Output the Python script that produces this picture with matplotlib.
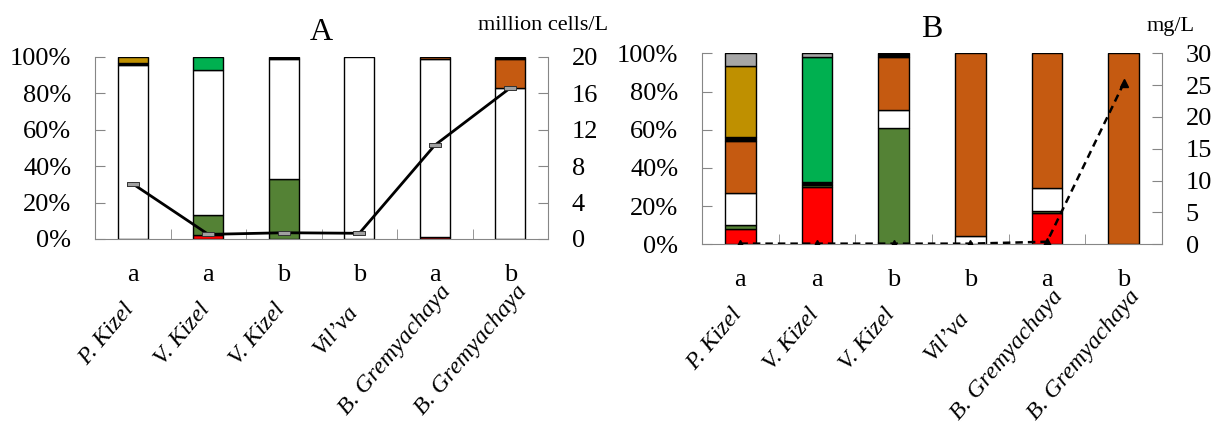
import matplotlib.pyplot as plt
import matplotlib.transforms as mtransforms
import numpy as np

plt.rcParams['font.family'] = ['Liberation Serif', 'DejaVu Serif']

sites = ["P. Kizel", "V. Kizel", "V. Kizel", "Vil\u2019va", "B. Gremyachaya", "B. Gremyachaya"]
season = ["a", "a", "b", "b", "a", "b"]

# group colours, bottom to top of each stack
colors = ["#FF0000", "#C00000", "#548235", "#FFFFFF", "#C55A11",
          "#000000", "#BF9000", "#00B050", "#A6A6A6"]

# panel A, % of cell numbers
a_red     = [0, 2.2, 0, 0, 0, 0]
a_darkred = [0, 0, 0, 0, 1.2, 0]
a_dkgreen = [0, 10.8, 33, 0, 0, 0]
a_white   = [95.8, 80, 66, 100, 97.4, 83]
a_orange  = [0, 0, 0, 0, 1.4, 16]
a_black   = [0.9, 0, 1, 0, 0, 1]
a_gold    = [3.3, 0, 0, 0, 0, 0]
a_green   = [0, 7, 0, 0, 0, 0]
a_gray    = [0, 0, 0, 0, 0, 0]
a_total = [6.05, 0.5, 0.68, 0.62, 10.3, 16.6]   # million cells/L

# panel B, % of biomass
b_red     = [7.9, 30, 0, 0, 16.2, 0]
b_darkred = [0, 0, 0, 0, 0, 0]
b_dkgreen = [2.2, 0.9, 60.7, 0, 1.2, 0]
b_white   = [16.9, 0, 9.6, 4.5, 12.2, 0]
b_orange  = [27, 0, 27.6, 95.5, 70.4, 100]
b_black   = [2.3, 1.9, 2.1, 0, 0, 0]
b_gold    = [37, 0, 0, 0, 0, 0]
b_green   = [0, 65.1, 0, 0, 0, 0]
b_gray    = [6.7, 2.1, 0, 0, 0, 0]
b_total = [0.1, 0.1, 0.1, 0.1, 0.4, 25.3]   # mg/L

A_stack = [a_red, a_darkred, a_dkgreen, a_white, a_orange, a_black, a_gold, a_green, a_gray]
B_stack = [b_red, b_darkred, b_dkgreen, b_white, b_orange, b_black, b_gold, b_green, b_gray]

grey = "#868686"
fs = 19

fig = plt.figure(figsize=(12.19, 4.36), dpi=100)
axA = fig.add_axes([0.078, 0.452, 0.3716, 0.4174])
axB = fig.add_axes([0.5759, 0.4397, 0.3774, 0.438])


def draw_panel(ax, stack, total, rmax, rstep, title, unit, unit_x, dashed):
    x = np.arange(len(sites))
    bottom = np.zeros(len(sites))
    for vals, c in zip(stack, colors):
        v = np.array(vals, dtype=float)
        lw = np.where(v > 0, 1.0, 0.0)
        ax.bar(x, v, 0.4, bottom=bottom, color=c, edgecolor="black", linewidth=lw)
        bottom += v
    ax.set_xlim(-0.5, len(sites) - 0.5)
    ax.set_ylim(0, 100)
    ax.set_yticks(np.arange(0, 101, 20))
    ax.set_yticklabels([f"{v}%" for v in range(0, 101, 20)])
    ax.set_xticks(x)
    ax.set_xticklabels(season)
    ax.set_xticks(np.arange(0.5, len(sites) - 1, 1), minor=True)
    ax.tick_params(axis="x", which="major", length=0, pad=18, labelsize=fs)
    ax.tick_params(axis="x", which="minor", direction="in", length=7, color=grey)
    ax.tick_params(axis="y", direction="in", length=7, color=grey, pad=17, labelsize=fs)
    for s in ["top", "right"]:
        ax.spines[s].set_visible(False)
    for s in ["left", "bottom"]:
        ax.spines[s].set_color(grey)
    ax.set_title(title, fontsize=23, pad=12)

    ax2 = ax.twinx()
    if dashed:
        ax2.plot(x, total, color="black", lw=1.8, ls=(0, (3, 2)),
                 marker="^", ms=6, mfc="black", mec="black")
    else:
        rect = [(-1, -0.3), (1, -0.3), (1, 0.3), (-1, 0.3), (-1, -0.3)]
        ax2.plot(x, total, color="black", lw=2, marker=rect, ms=9,
                 mfc="#a0a0a0", mec="#333333", mew=0.7)
    ax2.set_ylim(0, rmax)
    ax2.set_yticks(np.arange(0, rmax + 1, rstep))
    ax2.tick_params(axis="y", direction="in", length=7, color=grey, pad=17, labelsize=fs)
    for s in ["top", "left", "bottom"]:
        ax2.spines[s].set_visible(False)
    ax2.spines["right"].set_color(grey)

    fig.text(unit_x, 1 - 26 / 436, unit, fontsize=16, ha="right", va="center")

    # rotated site names under the season letters
    r = fig.canvas.get_renderer()
    ang = 50
    base = ax.get_xaxis_transform()
    ref = None
    for i, nm in enumerate(sites):
        t = ax.text(i, 0, nm, fontsize=17.5, style="italic", ha="right",
                    va="baseline", rotation=0, transform=base)
        w = t.get_window_extent(renderer=r).width
        if ref is None:
            ref = w
        shift = 0.26 * (w - ref)
        dx = 2 + shift * np.cos(np.radians(ang))
        dy = -70 + shift * np.sin(np.radians(ang))
        t.set_transform(mtransforms.offset_copy(base, fig=fig, x=dx, y=dy, units="dots"))
        t.set_rotation(ang)
        t.set_rotation_mode("anchor")


draw_panel(axA, A_stack, a_total, 20, 4, "A", "million cells/L", 608 / 1219, False)
draw_panel(axB, B_stack, b_total, 30, 5, "B", "mg/L", 1195 / 1219, True)

fig.savefig("out.png", dpi=100)
